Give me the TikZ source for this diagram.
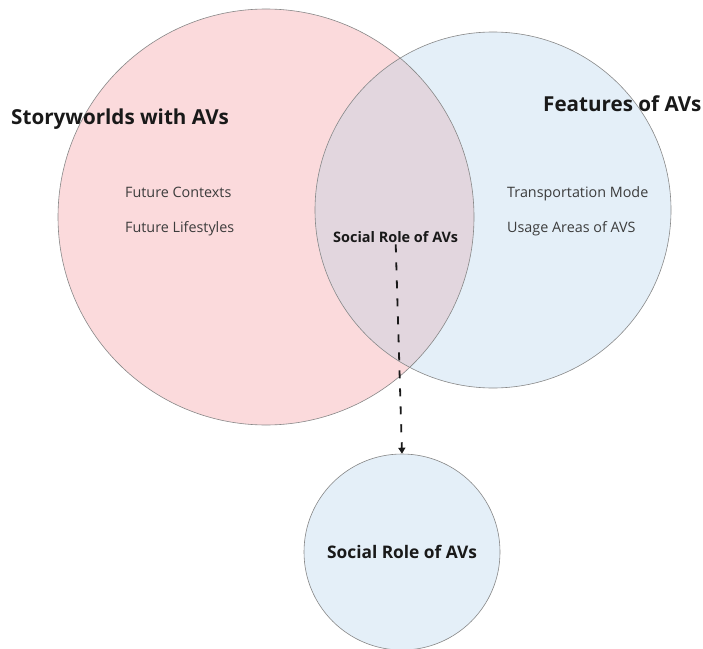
\documentclass[tikz,border=0pt]{standalone}
\usepackage{fontspec}
\setmainfont{Open Sans}
\usetikzlibrary{positioning,arrows.meta}
\definecolor{storypink}{RGB}{251,218,220}
\definecolor{featblue}{RGB}{228,239,248}
\definecolor{overlapmauve}{RGB}{226,214,222}
\definecolor{rimgray}{RGB}{135,135,135}
\definecolor{inkdark}{RGB}{25,25,25}
\definecolor{inkgray}{RGB}{60,60,60}

\begin{document}
\begin{tikzpicture}[
  x=1bp, y=-1bp,
  rim/.style={draw=rimgray, line width=0.6bp},
  heading/.style={font=\fontsize{20.7}{23}\selectfont\bfseries, text=inkdark, inner sep=0pt},
  item/.style={font=\fontsize{14.4}{16}\selectfont, text=inkgray, inner sep=0pt},
  tag/.style={font=\fontsize{14.5}{16}\selectfont\bfseries, text=inkdark, inner sep=0pt},
  bubble/.style={circle, rim, fill=featblue, minimum size=196bp, inner sep=0pt,
                 font=\fontsize{17.4}{19}\selectfont\bfseries, text=inkdark},
  arr/.style={-{Triangle[length=6bp,width=7bp]}, line width=1.8bp,
              dash pattern=on 8bp off 10bp, inkdark},
]
\useasboundingbox (0,0) rectangle (703,649);

\coordinate (storyc) at (266,217);
\coordinate (featc)  at (493,210);

% Venn circles
\fill[storypink] (storyc) circle (208);
\fill[featblue]  (featc)  circle (178);
\begin{scope}
  \clip (storyc) circle (208);
  \fill[overlapmauve] (featc) circle (178);
\end{scope}
\draw[rim] (storyc) circle (208);
\draw[rim] (featc)  circle (178);

% Headings and items
\node[heading, anchor=base west] (storyttl) at (11,125) {Storyworlds with AVs};
\node[heading, anchor=base west] (featttl)  at (543,112) {Features of AVs};

\node[item, anchor=base west] (ctx)  at (125,197) {Future Contexts};
\node[item, anchor=base west] (life) at ([yshift=-35bp]ctx.base west) {Future Lifestyles};
\node[item, anchor=base west] (mode) at (507,197) {Transportation Mode};
\node[item, anchor=base west] (area) at ([yshift=-35bp]mode.base west) {Usage Areas of AVS};

\node[tag, anchor=base west] (over) at (333,242) {Social Role of AVs};

% Result
\node[bubble] (role) at (402,552) {Social Role of AVs};

\draw[arr, shorten <=2bp] (over.south) -- (role.north);

\end{tikzpicture}
\end{document}
